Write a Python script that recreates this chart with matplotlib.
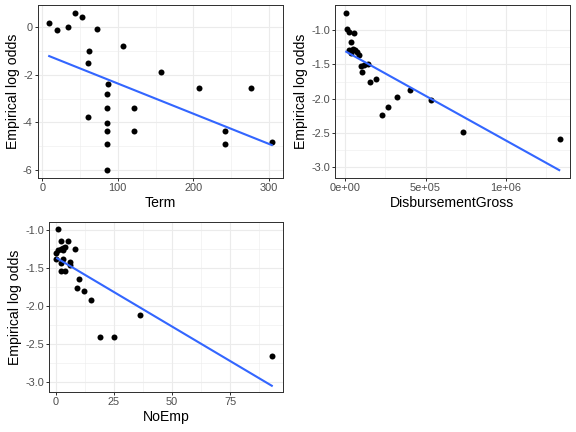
import matplotlib
matplotlib.use("Agg")
import matplotlib.pyplot as plt
import numpy as np

plt.rcParams["font.family"] = ["Liberation Sans", "DejaVu Sans"]
plt.rcParams["axes.unicode_minus"] = False

# Term panel
term_x = [9, 19, 34, 43, 52, 72, 62, 61, 107, 157, 87, 85, 85, 61, 85, 85, 85, 85,
          121, 121, 207, 277, 242, 242, 304]
term_y = [0.17, -0.11, -0.01, 0.59, 0.42, -0.10, -1.01, -1.52, -0.81, -1.87, -2.41,
          -2.80, -3.38, -3.76, -4.03, -4.36, -4.90, -5.99, -3.38, -4.36, -2.55,
          -2.55, -4.36, -4.90, -4.84]
term_fit_x = [9, 304]
term_fit_y = [-1.22, -4.95]

# DisbursementGross panel
disb_x = [4e3, 8e3, 2.1e4, 5.4e4, 3.5e4, 2.5e4, 4.6e4, 6.2e4, 7.5e4, 8.7e4, 3.7e4,
          9.8e4, 1.02e5, 1.16e5, 1.39e5, 1.56e5, 1.89e5, 2.26e5, 2.68e5, 3.22e5,
          4.03e5, 5.31e5, 7.35e5, 1.336e6]
disb_y = [-0.75, -0.99, -1.03, -1.04, -1.18, -1.29, -1.28, -1.29, -1.32, -1.36, -1.34,
          -1.53, -1.61, -1.51, -1.50, -1.76, -1.72, -2.23, -2.12, -1.97, -1.88,
          -2.02, -2.48, -2.58]
disb_fit_x = [6e3, 1.332e6]
disb_fit_y = [-1.316, -3.04]

# NoEmp panel
emp_x = [1, 2, 5, 0, 1, 2, 3, 4, 3, 8, 0, 2, 6, 6, 2, 4, 3, 10, 9, 12, 15, 19, 25, 36, 93]
emp_y = [-0.99, -1.15, -1.15, -1.30, -1.27, -1.25, -1.24, -1.23, -1.27, -1.26, -1.38,
         -1.44, -1.43, -1.46, -1.54, -1.54, -1.38, -1.65, -1.76, -1.80, -1.93,
         -2.41, -2.41, -2.12, -2.66]
emp_fit_x = [0.5, 93]
emp_fit_y = [-1.376, -3.05]

panels = [
    dict(pos=[0.0655, 0.5887, 0.4253, 0.399], x=term_x, y=term_y,
         fx=term_fit_x, fy=term_fit_y, xlabel="Term",
         xlim=(-6.2, 318.6), ylim=(-6.32, 0.91),
         xticks=[0, 100, 200, 300], xtl=["0", "100", "200", "300"],
         xminor=[50, 150, 250],
         yticks=[0, -2, -4, -6], ytl=["0", "-2", "-4", "-6"],
         yminor=[-1, -3, -5]),
    dict(pos=[0.5821, 0.5887, 0.4069, 0.399], x=disb_x, y=disb_y,
         fx=disb_fit_x, fy=disb_fit_y, xlabel="DisbursementGross",
         xlim=(-6.2e4, 1.397e6), ylim=(-3.15, -0.64),
         xticks=[0, 5e5, 1e6], xtl=["0e+00", "5e+05", "1e+06"],
         xminor=[2.5e5, 7.5e5, 1.25e6],
         yticks=[-1.0, -1.5, -2.0, -2.5, -3.0],
         ytl=["-1.0", "-1.5", "-2.0", "-2.5", "-3.0"],
         yminor=[-1.25, -1.75, -2.25, -2.75]),
    dict(pos=[0.0856, 0.0919, 0.4052, 0.3949], x=emp_x, y=emp_y,
         fx=emp_fit_x, fy=emp_fit_y, xlabel="NoEmp",
         xlim=(-2.87, 97.7), ylim=(-3.136, -0.895),
         xticks=[0, 25, 50, 75], xtl=["0", "25", "50", "75"],
         xminor=[12.5, 37.5, 62.5, 87.5],
         yticks=[-1.0, -1.5, -2.0, -2.5, -3.0],
         ytl=["-1.0", "-1.5", "-2.0", "-2.5", "-3.0"],
         yminor=[-1.25, -1.75, -2.25, -2.75]),
]

fig = plt.figure(figsize=(8, 6), dpi=72)

for p in panels:
    ax = fig.add_axes(p["pos"])
    ax.set_facecolor("white")
    for v in p["xminor"]:
        ax.axvline(v, color="#EBEBEB", linewidth=0.55, zorder=0)
    for v in p["yminor"]:
        ax.axhline(v, color="#EBEBEB", linewidth=0.55, zorder=0)
    for v in p["xticks"]:
        ax.axvline(v, color="#EBEBEB", linewidth=1.1, zorder=0)
    for v in p["yticks"]:
        ax.axhline(v, color="#EBEBEB", linewidth=1.1, zorder=0)

    ax.scatter(p["x"], p["y"], s=36, color="black", linewidths=0, zorder=2)
    ax.plot(p["fx"], p["fy"], color="#3366FF", linewidth=2.1, zorder=3)

    ax.set_xlim(p["xlim"])
    ax.set_ylim(p["ylim"])
    ax.set_xticks(p["xticks"])
    ax.set_xticklabels(p["xtl"])
    ax.set_yticks(p["yticks"])
    ax.set_yticklabels(p["ytl"])
    ax.tick_params(length=3, width=1, color="#333333", labelcolor="#4D4D4D",
                   labelsize=11, pad=2)
    for s in ax.spines.values():
        s.set_color("#333333")
        s.set_linewidth(1)
    ax.set_xlabel(p["xlabel"], fontsize=14, labelpad=3)
    ax.set_ylabel("Empirical log odds", fontsize=14, labelpad=3)

fig.savefig("out.png", dpi=72)
